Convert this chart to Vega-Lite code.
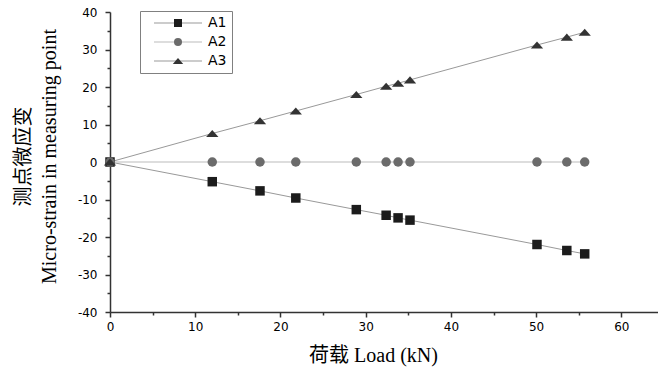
{
  "$schema": "https://vega.github.io/schema/vega-lite/v6.json",
  "width": 548,
  "height": 300,
  "autosize": {"type": "none"},
  "padding": {"left": 110, "top": 12, "right": 0, "bottom": 55},
  "background": "white",
  "config": {"view": {"stroke": null}, "axis": {"grid": false}},
  "data": {
    "values": [
      {"series": "A1", "load": 0, "strain": 0},
      {"series": "A1", "load": 12, "strain": -5.25},
      {"series": "A1", "load": 17.6, "strain": -7.7},
      {"series": "A1", "load": 21.8, "strain": -9.6},
      {"series": "A1", "load": 28.9, "strain": -12.7},
      {"series": "A1", "load": 32.4, "strain": -14.2},
      {"series": "A1", "load": 33.8, "strain": -14.9},
      {"series": "A1", "load": 35.2, "strain": -15.5},
      {"series": "A1", "load": 50.1, "strain": -22.0},
      {"series": "A1", "load": 53.6, "strain": -23.6},
      {"series": "A1", "load": 55.7, "strain": -24.5},
      {"series": "A2", "load": 0, "strain": 0},
      {"series": "A2", "load": 12, "strain": 0},
      {"series": "A2", "load": 17.6, "strain": 0},
      {"series": "A2", "load": 21.8, "strain": 0},
      {"series": "A2", "load": 28.9, "strain": 0},
      {"series": "A2", "load": 32.4, "strain": 0},
      {"series": "A2", "load": 33.8, "strain": 0},
      {"series": "A2", "load": 35.2, "strain": 0},
      {"series": "A2", "load": 50.1, "strain": 0},
      {"series": "A2", "load": 53.6, "strain": 0},
      {"series": "A2", "load": 55.7, "strain": 0},
      {"series": "A3", "load": 0, "strain": 0},
      {"series": "A3", "load": 12, "strain": 7.6},
      {"series": "A3", "load": 17.6, "strain": 11.0},
      {"series": "A3", "load": 21.8, "strain": 13.6},
      {"series": "A3", "load": 28.9, "strain": 18.0},
      {"series": "A3", "load": 32.4, "strain": 20.2},
      {"series": "A3", "load": 33.8, "strain": 21.0},
      {"series": "A3", "load": 35.2, "strain": 21.9},
      {"series": "A3", "load": 50.1, "strain": 31.2},
      {"series": "A3", "load": 53.6, "strain": 33.3},
      {"series": "A3", "load": 55.7, "strain": 34.6}
    ]
  },
  "encoding": {
    "x": {
      "field": "load",
      "type": "quantitative",
      "scale": {"domain": [0, 64.3], "nice": false, "zero": false},
      "axis": {
        "values": [0, 5, 10, 15, 20, 25, 30, 35, 40, 45, 50, 55, 60],
        "labelExpr": "datum.value % 10 === 0 ? '' + datum.value : ''",
        "tickSize": {"condition": {"test": "datum.value % 10 === 0", "value": 5}, "value": 3},
        "tickColor": "#333333",
        "tickWidth": 1.5,
        "domainColor": "#333333",
        "domainWidth": 1.5,
        "labelFont": "DejaVu Sans",
        "labelFontSize": 12,
        "labelColor": "#000000",
        "labelPadding": 4,
        "labelFlush": false,
        "labelOverlap": false,
        "title": "荷载  Load (kN)",
        "titleFont": "Liberation Serif, Noto Sans CJK SC",
        "titleFontSize": 20,
        "titleFontWeight": "normal",
        "titleColor": "#000000",
        "titleX": 263,
        "titleY": 49,
        "titleAlign": "center",
        "titleBaseline": "alphabetic"
      }
    },
    "y": {
      "field": "strain",
      "type": "quantitative",
      "scale": {"domain": [-40, 40], "nice": false, "zero": false},
      "axis": {
        "values": [-40, -35, -30, -25, -20, -15, -10, -5, 0, 5, 10, 15, 20, 25, 30, 35, 40],
        "labelExpr": "datum.value % 10 === 0 ? '' + datum.value : ''",
        "tickSize": {"condition": {"test": "datum.value % 10 === 0", "value": 5}, "value": 3},
        "tickColor": "#333333",
        "tickWidth": 1.5,
        "domainColor": "#333333",
        "domainWidth": 1.5,
        "labelFont": "DejaVu Sans",
        "labelFontSize": 12,
        "labelColor": "#000000",
        "labelPadding": 8,
        "labelFlush": false,
        "labelOverlap": false,
        "title": ["测点微应变", "Micro-strain in measuring point"],
        "titleFont": "Liberation Serif, Noto Sans CJK SC",
        "titleFontSize": 20,
        "titleFontWeight": "normal",
        "titleColor": "#000000",
        "titleLineHeight": 26,
        "titleAngle": -90,
        "titleX": -81,
        "titleY": 144,
        "titleAlign": "center",
        "titleBaseline": "alphabetic"
      }
    }
  },
  "layer": [
    {
      "mark": {"type": "line", "strokeWidth": 1},
      "encoding": {
        "color": {
          "field": "series",
          "type": "nominal",
          "scale": {"domain": ["A1", "A2", "A3"], "range": ["#999999", "#bbbbbb", "#999999"]},
          "legend": {
            "orient": "none",
            "legendX": 30,
            "legendY": -1,
            "title": null,
            "symbolType": "M-4.8,0H4.8",
            "symbolSize": 100,
            "symbolStrokeWidth": 1,
            "symbolOffset": 26,
            "labelOffset": 23,
            "labelFont": "DejaVu Sans",
            "labelFontSize": 14,
            "labelColor": "#000000",
            "labelExpr": "datum.label + '\u00a0\u00a0'",
            "padding": 5,
            "rowPadding": 5,
            "strokeColor": "#808080"
          }
        }
      }
    },
    {
      "mark": {"type": "point", "filled": true, "size": 90, "opacity": 1, "strokeWidth": 0},
      "encoding": {
        "fill": {
          "field": "series",
          "type": "nominal",
          "scale": {"range": ["#1c1c1c", "#6b6b6b", "#333333"]},
          "legend": {
            "orient": "none",
            "legendX": 30,
            "legendY": -1,
            "title": null,
            "symbolSize": 64,
            "symbolStrokeWidth": 0,
            "symbolOpacity": 1,
            "symbolOffset": 26,
            "labelOffset": 23,
            "labelFont": "DejaVu Sans",
            "labelFontSize": 14,
            "labelOpacity": 0,
            "labelExpr": "datum.label + '\u00a0\u00a0'",
            "padding": 5,
            "rowPadding": 5
          }
        },
        "shape": {
          "field": "series",
          "type": "nominal",
          "scale": {"range": ["square", "circle", "M0,-0.75L1.3,0.75L-1.3,0.75Z"]},
          "legend": {
            "orient": "none",
            "legendX": 30,
            "legendY": -1,
            "title": null,
            "symbolSize": 64,
            "symbolStrokeWidth": 0,
            "symbolOpacity": 1,
            "symbolOffset": 26,
            "labelOffset": 23,
            "labelFont": "DejaVu Sans",
            "labelFontSize": 14,
            "labelOpacity": 0,
            "labelExpr": "datum.label + '\u00a0\u00a0'",
            "padding": 5,
            "rowPadding": 5
          }
        }
      }
    }
  ]
}
